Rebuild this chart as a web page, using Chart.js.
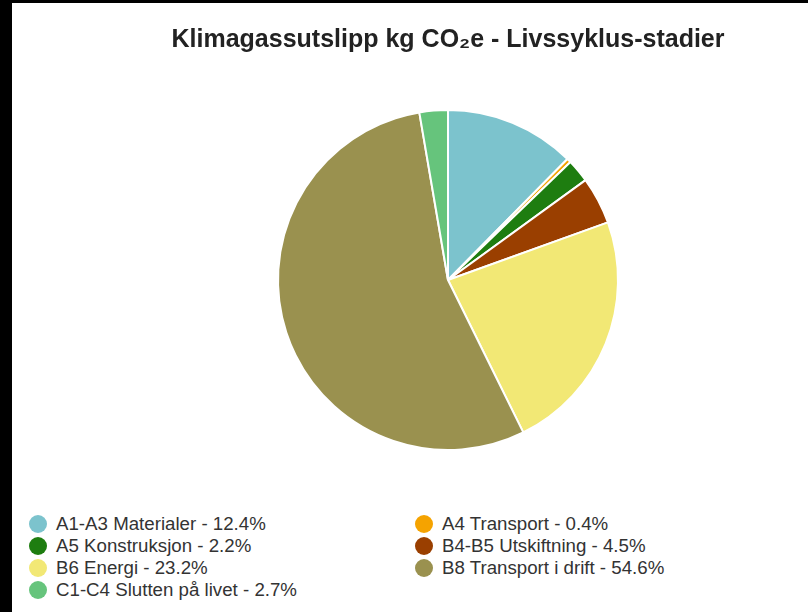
<!DOCTYPE html>
<html>
<head>
<meta charset="utf-8">
<script src="https://cdn.jsdelivr.net/npm/chart.js@4"></script>
<style>
  html, body { margin: 0; padding: 0; background: #000; }
  #wrap { position: absolute; left: 12px; top: 3px; width: 796px; height: 609px; background: #fff; }
  #chartBox { position: absolute; left: 0; top: 0; width: 796px; height: 460px; }
  #legend { position: absolute; left: 0; top: 510px; width: 796px; font-family: "Liberation Sans", Arial, sans-serif; font-size: 18.7px; color: #333; }
  .item { position: absolute; height: 22px; line-height: 22px; white-space: nowrap; }
  .dot { position: absolute; left: 0; top: 2px; width: 18px; height: 18px; border-radius: 50%; }
  .txt { position: absolute; left: 27px; top: 0; }
</style>
</head>
<body>
<div id="wrap">
  <div id="chartBox"><canvas id="diagramm"></canvas></div>
  <div id="legend"></div>
</div>
<script>
const chartTitle = "Klimagassutslipp kg CO₂e - Livssyklus-stadier";
const stages = [
  "A1-A3 Materialer",
  "A4 Transport",
  "A5 Konstruksjon",
  "B4-B5 Utskiftning",
  "B6 Energi",
  "B8 Transport i drift",
  "C1-C4 Slutten på livet",
];
const shares = [12.4, 0.4, 2.2, 4.5, 23.2, 54.6, 2.7];
const colors = ["#7cc3cd", "#f5a300", "#1e7d10", "#9a3f00", "#f2e875", "#9a914f", "#66c47c"];

const ctx = document.getElementById("diagramm").getContext("2d");
const pieChart = new Chart(ctx, {
  type: "pie",
  data: {
    labels: stages,
    datasets: [
      {
        data: shares,
        backgroundColor: colors,
        borderColor: "#ffffff",
        borderWidth: 2,
      },
    ],
  },
  options: {
    responsive: true,
    maintainAspectRatio: false,
    animation: false,
    layout: {
      padding: { left: 76, right: 0, top: 15, bottom: 12 },
    },
    plugins: {
      legend: { display: false },
      tooltip: { enabled: false },
      title: {
        display: true,
        text: chartTitle,
        color: "#222",
        font: { family: "'Liberation Sans', Arial, sans-serif", size: 25, weight: "bold" },
        padding: { top: 7, bottom: 54 },
      },
    },
  },
});

// html legend in two columns, built from the same arrays
const legendEl = document.getElementById("legend");
stages.forEach((name, idx) => {
  const col = idx % 2;
  const row = Math.floor(idx / 2);
  const item = document.createElement("div");
  item.className = "item";
  item.style.left = (col === 0 ? 17 : 403) + "px";
  item.style.top = row * 22 + "px";
  const dot = document.createElement("span");
  dot.className = "dot";
  dot.style.background = colors[idx];
  const txt = document.createElement("span");
  txt.className = "txt";
  txt.textContent = name + " - " + shares[idx] + "%";
  item.appendChild(dot);
  item.appendChild(txt);
  legendEl.appendChild(item);
});
</script>
</body>
</html>
